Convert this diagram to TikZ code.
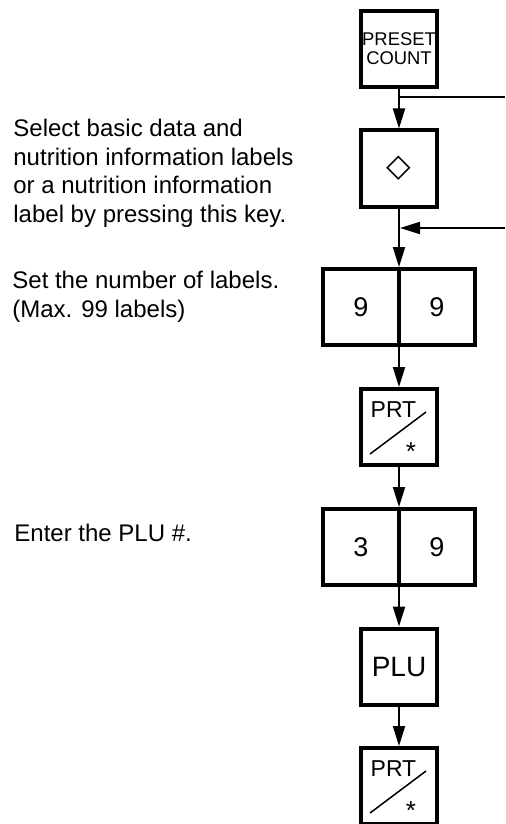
\documentclass[tikz,border=0pt]{standalone}
\usepackage{fontspec}
\setmainfont{Liberation Sans}
\newfontfamily\symfont{DejaVu Sans}
\usetikzlibrary{arrows.meta,calc}

% slash and asterisk of the PRT key
\newcommand{\prtmarks}[1]{%
  \node[font=\fontsize{11.5}{11.5}\selectfont] (#1-txt) at ($(#1)+(-5.5,-17)$) {PRT};
  \draw[line width=0.75pt] ($(#1)+(-29,27)$) -- ($(#1)+(27,-15)$);
  \node[font=\fontsize{13}{13}\selectfont,inner sep=0pt] (#1-ast) at ($(#1)+(12,25)$) {*};
}

\begin{document}
\begin{tikzpicture}[x=0.5pt, y=-0.5pt, every node/.style={font=\fontsize{12}{14.3}\selectfont}, >={Triangle[length=10pt,width=6pt]}]
  \tikzstyle{key}=[draw,line width=2pt,minimum width=38pt,minimum height=38pt,inner sep=0pt,align=center]
  \tikzstyle{flow}=[->,line width=1pt]
  \tikzstyle{note}=[anchor=north west,align=left,inner sep=0pt]
  \useasboundingbox (0,0) rectangle (505,824);
  % keys
  \node[key,font=\fontsize{9.2}{9.5}\selectfont] (preset) at (399,49) {PRESET\\COUNT};
  \node[key,font=\symfont\fontsize{16}{16}\selectfont] (select) at (399,168.5) {◇};
  \node[key,font=\fontsize{13.5}{13.5}\selectfont] (nineL) at (361,307) {9};
  \node[key,font=\fontsize{13.5}{13.5}\selectfont] (nineR) at (437,307) {9};
  \node[key] (prtA) at (399,427) {};
  \node[key,font=\fontsize{13.5}{13.5}\selectfont] (threeL) at (361,547) {3};
  \node[key,font=\fontsize{13.5}{13.5}\selectfont] (nineB) at (437,547) {9};
  \node[key,font=\fontsize{14}{14}\selectfont] (plu) at (399,666.5) {PLU};
  \node[key] (prtB) at (399,786) {};
  \prtmarks{prtA}
  \prtmarks{prtB}
  % notes
  \node[note] (noteSel) at (13,119) {Select basic data and\\nutrition information labels\\or a nutrition information\\label by pressing this key.};
  \node[note] (noteNum) at (12,271) {Set the number of labels.\\(Max. 99 labels)};
  \node[note] (notePlu) at (14,524) {Enter the PLU \#.};
  % flow
  \coordinate (toRight) at (505,97);
  \coordinate (fromRight) at (505,228);
  \draw[flow] (preset) -- (select);
  \draw[line width=1pt] (toRight -| preset.south) -- (toRight);
  \draw[flow] (select) -- (select |- nineL.north);
  \draw[flow,shorten >=0.5pt] (fromRight) -- (fromRight -| select.south);
  \draw[flow] (nineL.south -| prtA) -- (prtA);
  \draw[flow] (prtA) -- (prtA |- threeL.north);
  \draw[flow] (threeL.south -| plu) -- (plu);
  \draw[flow] (plu) -- (prtB);
\end{tikzpicture}
\end{document}
